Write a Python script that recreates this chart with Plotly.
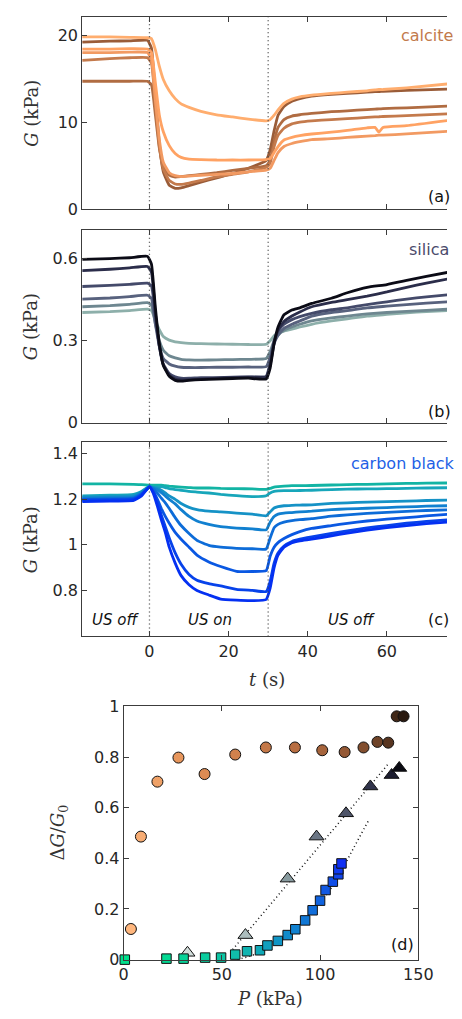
import plotly.graph_objects as go

# ---------------- data: panel (a) calcite ----------------
t_a = [-17, -10, -5, -0.5, 0.5, 1.5, 2.5, 3.5, 5, 6.5, 8, 10, 13, 17, 21, 25, 29.5,
       30.5, 31.5, 32.5, 34, 36, 38, 41, 46, 50, 55, 57, 58, 59, 65, 75.5]
calcite_1 = [19.8, 19.8, 19.75, 19.7, 19.6, 18.3, 16.4, 14.9, 13.6, 12.7, 12.1, 11.7, 11.25, 10.85, 10.6, 10.35, 10.15,
             10.3, 10.8, 11.4, 12.15, 12.65, 12.9, 13.1, 13.3, 13.45, 13.6, 13.7, 13.75, 13.75, 13.95, 14.4]
calcite_2 = [18.4, 18.4, 18.45, 18.4, 18.0, 14.5, 10.8, 8.9, 7.3, 6.4, 5.95, 5.75, 5.7, 5.65, 5.65, 5.65, 5.7,
             5.8, 6.5, 7.2, 7.95, 8.25, 8.45, 8.64, 8.85, 9.05, 9.35, 9.4, 8.85, 9.4, 9.6, 10.2]
calcite_3 = [18.0, 18.0, 18.05, 18.0, 17.2, 12.5, 8.0, 5.4, 4.2, 3.85, 3.75, 3.8, 3.9, 4.0, 4.1, 4.3, 4.5,
             4.7, 5.6, 6.5, 7.2, 7.55, 7.75, 8.0, 8.1, 8.25, 8.4, 8.45, 8.5, 8.5, 8.65, 8.95]
calcite_4 = [17.1, 17.3, 17.4, 17.4, 16.8, 12.0, 7.2, 4.6, 3.3, 2.9, 2.85, 3.0, 3.3, 3.7, 4.0, 4.3, 4.8,
             5.3, 7.2, 8.5, 9.3, 9.8, 10.0, 10.15, 10.3, 10.4, 10.55, 10.6, 10.62, 10.65, 10.75, 10.95]
calcite_5 = [14.7, 14.7, 14.7, 14.7, 14.3, 10.8, 7.0, 5.0, 3.9, 3.7, 3.75, 3.85, 4.0, 4.2, 4.45, 4.7, 5.0,
             5.6, 7.8, 9.4, 10.3, 10.7, 10.85, 11.0, 11.2, 11.3, 11.45, 11.5, 11.52, 11.55, 11.65, 11.85]
calcite_6 = [19.2, 19.3, 19.35, 19.4, 18.5, 13.0, 7.5, 4.3, 2.75, 2.4, 2.45, 2.7, 3.1, 3.6, 4.1, 4.7, 5.6,
             6.8, 9.0, 10.8, 11.8, 12.4, 12.7, 13.0, 13.2, 13.3, 13.45, 13.5, 13.5, 13.55, 13.65, 13.8]

# ---------------- data: panel (b) silica ----------------
t_b = [-17, -10, -5, -0.5, 0.5, 1.5, 2.5, 3.5, 5, 6.5, 8, 10, 13, 17, 21, 25, 29.5,
       30.5, 31.5, 32.5, 34, 36, 38, 41, 46, 50, 55, 60, 65, 70, 75.5]
silica_1 = [0.403, 0.406, 0.41, 0.415, 0.41, 0.375, 0.34, 0.315, 0.302, 0.296, 0.293, 0.29, 0.289, 0.288, 0.287, 0.286, 0.287,
            0.3, 0.318, 0.328, 0.335, 0.342, 0.35, 0.36, 0.372, 0.38, 0.39, 0.396, 0.402, 0.406, 0.41]
silica_2 = [0.424, 0.428, 0.433, 0.439, 0.43, 0.36, 0.3, 0.265, 0.245, 0.237, 0.232, 0.23, 0.229, 0.23, 0.231, 0.232, 0.235,
            0.26, 0.3, 0.32, 0.338, 0.35, 0.36, 0.372, 0.383, 0.39, 0.398, 0.403, 0.407, 0.411, 0.415]
silica_3 = [0.452, 0.456, 0.461, 0.466, 0.455, 0.36, 0.28, 0.235, 0.215, 0.207, 0.203, 0.202, 0.202, 0.203, 0.203, 0.204, 0.205,
            0.24, 0.29, 0.32, 0.345, 0.36, 0.372, 0.39, 0.403, 0.41, 0.42, 0.426, 0.432, 0.437, 0.442]
silica_4 = [0.498, 0.502, 0.506, 0.510, 0.5, 0.39, 0.28, 0.215, 0.18, 0.168, 0.163, 0.163, 0.165, 0.165, 0.167, 0.168, 0.17,
            0.22, 0.3, 0.335, 0.36, 0.377, 0.388, 0.40, 0.413, 0.42, 0.432, 0.442, 0.452, 0.46, 0.468]
silica_5 = [0.556, 0.561, 0.566, 0.571, 0.55, 0.40, 0.28, 0.21, 0.175, 0.16, 0.157, 0.158, 0.16, 0.163, 0.165, 0.167, 0.168,
            0.21, 0.29, 0.34, 0.37, 0.39, 0.405, 0.424, 0.44, 0.45, 0.463, 0.478, 0.495, 0.51, 0.526]
silica_6 = [0.597, 0.600, 0.603, 0.608, 0.58, 0.42, 0.29, 0.21, 0.17, 0.155, 0.152, 0.155, 0.158, 0.16, 0.162, 0.163, 0.16,
            0.2, 0.29, 0.35, 0.395, 0.412, 0.42, 0.436, 0.455, 0.475, 0.495, 0.505, 0.52, 0.535, 0.55]

# ---------------- data: panel (c) carbon black ----------------
t_c = [-17, -10, -4, -2, 0, 1, 2, 3, 4, 5, 6.5, 8, 10, 12, 15, 18, 22, 26, 29.5,
       30.5, 31.5, 32.5, 34, 36, 38, 41, 46, 50, 55, 60, 65, 70, 75.5]
carbon_1 = [1.268, 1.268, 1.266, 1.265, 1.262, 1.262, 1.262, 1.262, 1.26, 1.258, 1.256, 1.254, 1.252, 1.25, 1.25, 1.248, 1.247, 1.246, 1.244,
            1.248, 1.254, 1.256, 1.258, 1.26, 1.26, 1.261, 1.263, 1.265, 1.266, 1.268, 1.27, 1.271, 1.272]
carbon_2 = [1.215, 1.218, 1.222, 1.235, 1.258, 1.252, 1.255, 1.256, 1.252, 1.247, 1.243, 1.24, 1.235, 1.232, 1.228, 1.222, 1.216, 1.212, 1.216,
            1.228, 1.235, 1.237, 1.238, 1.238, 1.239, 1.24, 1.243, 1.245, 1.246, 1.247, 1.248, 1.25, 1.251]
carbon_3 = [1.21, 1.212, 1.215, 1.232, 1.256, 1.252, 1.248, 1.24, 1.228, 1.215, 1.2, 1.182, 1.165, 1.155, 1.148, 1.145, 1.14, 1.135, 1.128,
            1.145, 1.162, 1.168, 1.172, 1.174, 1.175, 1.176, 1.182, 1.185, 1.188, 1.19, 1.192, 1.195, 1.197]
carbon_4 = [1.205, 1.207, 1.21, 1.228, 1.255, 1.25, 1.242, 1.23, 1.215, 1.2, 1.18, 1.155, 1.125, 1.105, 1.09, 1.08, 1.074, 1.07, 1.066,
            1.1, 1.125, 1.135, 1.14, 1.142, 1.145, 1.148, 1.155, 1.158, 1.161, 1.164, 1.167, 1.17, 1.172]
carbon_5 = [1.2, 1.203, 1.206, 1.225, 1.255, 1.245, 1.228, 1.205, 1.185, 1.16, 1.12, 1.085, 1.05, 1.02, 0.998, 0.99, 0.985, 0.983, 0.982,
            1.03, 1.075, 1.09, 1.1, 1.107, 1.111, 1.115, 1.126, 1.132, 1.138, 1.143, 1.147, 1.151, 1.154]
carbon_6 = [1.2, 1.2, 1.203, 1.222, 1.255, 1.235, 1.2, 1.16, 1.125, 1.095, 1.055, 1.025, 0.99, 0.955, 0.925, 0.905, 0.884, 0.883, 0.887,
            0.95, 0.99, 1.01, 1.028, 1.045, 1.058, 1.072, 1.085, 1.095, 1.105, 1.113, 1.12, 1.127, 1.134]
carbon_7 = [1.195, 1.197, 1.2, 1.22, 1.255, 1.23, 1.19, 1.13, 1.08, 1.03, 0.965, 0.915, 0.87, 0.845, 0.83, 0.82, 0.805, 0.8, 0.795,
            0.84, 0.92, 0.965, 0.995, 1.015, 1.025, 1.035, 1.05, 1.062, 1.075, 1.085, 1.095, 1.103, 1.11]
carbon_8 = [1.19, 1.192, 1.195, 1.215, 1.256, 1.225, 1.17, 1.11, 1.055, 0.99, 0.92, 0.865, 0.825, 0.8, 0.78, 0.762, 0.757, 0.755, 0.76,
            0.81, 0.9, 0.955, 0.99, 1.01, 1.018, 1.025, 1.04, 1.052, 1.065, 1.076, 1.085, 1.093, 1.1]

# ---------------- data: panel (d) ----------------
circle_P = [3.7, 8.8, 17.2, 27.9, 41.2, 56.8, 72.4, 87.2, 101.1, 112.5, 122.1, 129.2, 134.7, 139.0, 142.5]
circle_G = [0.121, 0.486, 0.703, 0.798, 0.733, 0.810, 0.838, 0.838, 0.827, 0.820, 0.838, 0.860, 0.857, 0.961, 0.961]
tri_P = [32.5, 62.0, 83.5, 98.2, 113.2, 125.6, 136.4, 140.3]
tri_G = [0.027, 0.097, 0.320, 0.486, 0.578, 0.684, 0.729, 0.757]
sq_P = [0.6, 21.8, 30.5, 41.5, 49.6, 56.8, 62.8, 69.4, 73.2, 78.5, 83.5, 87.4, 92.4, 96.2, 100.0, 102.8, 106.5, 109.3, 109.3, 110.9]
sq_G = [0.0, 0.004, 0.004, 0.008, 0.008, 0.020, 0.033, 0.037, 0.056, 0.074, 0.097, 0.120, 0.155, 0.195, 0.233, 0.275, 0.308, 0.337, 0.357, 0.380]
fitA_P = [55.5, 134.6]
fitA_G = [0.04, 0.772]
fitB_P = [58, 70, 80, 90, 100, 108, 116.6, 124.7]
fitB_G = [0.0, 0.03, 0.075, 0.14, 0.225, 0.31, 0.434, 0.55]

# ---------------- styles ----------------
W, H = 462, 1019
calcite_colors = ['#FFAD6E', '#FFA263', '#F29A62', '#C47A4C', '#B06C42', '#9A5C38']
silica_colors = ['#8DAFAA', '#6E8790', '#58627E', '#444A6A', '#2B2D4A', '#0B0B16']
carbon_colors = ['#12B4A4', '#17A6BA', '#1592C6', '#1180D0', '#0D6CD8', '#0A58E2', '#0742EA', '#0430F2']


def hex2rgb(h):
    h = h.lstrip('#')
    return [int(h[i:i + 2], 16) for i in (0, 2, 4)]


def gradient(stops, n):
    cols = []
    rs = [hex2rgb(s) for s in stops]
    for i in range(n):
        f = i / (n - 1) * (len(rs) - 1)
        k = min(int(f), len(rs) - 2)
        u = f - k
        c = [round(rs[k][j] + (rs[k + 1][j] - rs[k][j]) * u) for j in range(3)]
        cols.append('rgb(%d,%d,%d)' % tuple(c))
    return cols


circle_colors = gradient(['#FFB77E', '#E39056', '#B86E42', '#7A4A2C', '#2A1A10'], len(circle_P))
tri_colors = gradient(['#D3DEDC', '#8FA4A6', '#5C6478', '#2A2C44', '#0A0A12'], len(tri_P))
sq_colors = gradient(['#00E08C', '#10C0A8', '#1090C8', '#1060E0', '#1030F4'], len(sq_P))

AX = '#3c3c3c'
TICKFONT = dict(family='DejaVu Sans', size=16, color='#262626')
LINEW = 2.8

fig = go.Figure()


def add_lines(t, series, colors, xa, ya):
    for s, c in zip(series, colors):
        fig.add_trace(go.Scatter(x=t, y=s, mode='lines', xaxis=xa, yaxis=ya,
                                 line=dict(color=c, width=LINEW, shape='spline', smoothing=0.4),
                                 showlegend=False, hoverinfo='skip'))


add_lines(t_a, [calcite_6, calcite_5, calcite_4, calcite_3, calcite_2, calcite_1],
          list(reversed(calcite_colors)), 'x', 'y')
add_lines(t_b, [silica_1, silica_2, silica_3, silica_4, silica_5, silica_6], silica_colors, 'x2', 'y2')
add_lines(t_c, [carbon_1, carbon_2, carbon_3, carbon_4, carbon_5, carbon_6, carbon_7, carbon_8],
          carbon_colors, 'x3', 'y3')

# panel d
fig.add_trace(go.Scatter(x=fitA_P, y=fitA_G, mode='lines', xaxis='x4', yaxis='y4',
                         line=dict(color='#111', width=1.5, dash='1px,3px'), showlegend=False))
fig.add_trace(go.Scatter(x=fitB_P, y=fitB_G, mode='lines', xaxis='x4', yaxis='y4',
                         line=dict(color='#111', width=1.5, dash='1px,3px', shape='spline'), showlegend=False))
fig.add_trace(go.Scatter(x=circle_P, y=circle_G, mode='markers', xaxis='x4', yaxis='y4', cliponaxis=False,
                         marker=dict(symbol='circle', size=11, color=circle_colors,
                                     line=dict(color='#111', width=1)), showlegend=False))
fig.add_trace(go.Scatter(x=tri_P, y=tri_G, mode='markers', xaxis='x4', yaxis='y4', cliponaxis=False,
                         marker=dict(symbol='triangle-up', size=13, color=tri_colors,
                                     line=dict(color='#111', width=1)), showlegend=False))
fig.add_trace(go.Scatter(x=sq_P, y=sq_G, mode='markers', xaxis='x4', yaxis='y4', cliponaxis=False,
                         marker=dict(symbol='square', size=9.5, color=sq_colors,
                                     line=dict(color='#111', width=1)), showlegend=False))


def px_x(p):
    return p / W


def px_y(p):
    return (H - p) / H


base = dict(showline=True, linecolor=AX, linewidth=1, ticks='inside', ticklen=5, tickcolor=AX,
            showgrid=False, zeroline=False, tickfont=TICKFONT)

trange = [-17, 75.2]
xdom = [80.7 / W, 1.0]
layout = dict(
    width=W, height=H, margin=dict(l=0, r=0, t=0, b=0),
    paper_bgcolor='white', plot_bgcolor='white', showlegend=False,
    xaxis=dict(base, domain=xdom, range=trange, tickvals=[0, 20, 40, 60], showticklabels=False,
               mirror='ticks', anchor='y'),
    yaxis=dict(base, domain=[px_y(204), px_y(8)], range=[0, 22.1], tickvals=[0, 10, 20], anchor='x'),
    xaxis2=dict(base, domain=xdom, range=trange, tickvals=[0, 20, 40, 60], showticklabels=False,
                mirror='ticks', anchor='y2'),
    yaxis2=dict(base, domain=[px_y(421.7), px_y(225)], range=[0, 0.705], tickvals=[0, 0.3, 0.6],
                anchor='x2'),
    xaxis3=dict(base, domain=xdom, range=trange, tickvals=[0, 20, 40, 60], mirror='ticks', anchor='y3'),
    yaxis3=dict(base, domain=[px_y(639.3), px_y(441.7)], range=[0.598, 1.45],
                tickvals=[0.8, 1.0, 1.2, 1.4], ticktext=['0.8', '1', '1.2', '1.4'], anchor='x3'),
    xaxis4=dict(base, domain=[124 / W, 432 / W], range=[0, 150], tickvals=[0, 50, 100, 150],
                mirror='ticks', anchor='y4'),
    yaxis4=dict(base, domain=[px_y(968.7), px_y(710.7)], range=[0, 1],
                tickvals=[0, 0.2, 0.4, 0.6, 0.8, 1], ticktext=['0', '0.2', '0.4', '0.6', '0.8', '1'],
                mirror='ticks', anchor='x4'),
)
fig.update_layout(**layout)

# dotted vertical lines at t=0 and t=30
for xr, yr in [('x', 'y'), ('x2', 'y2'), ('x3', 'y3')]:
    for tv in (0, 30):
        fig.add_shape(type='line', xref=xr, yref=yr + ' domain', x0=tv, x1=tv, y0=0, y1=1,
                      line=dict(color='#444', width=1.3, dash='1px,3px'))

SERIF = 'DejaVu Serif'
ann = []


def label(text, x, y, size=16, color='#111', family='DejaVu Sans', xanchor='left', angle=0):
    ann.append(dict(text=text, x=px_x(x), y=px_y(y), xref='paper', yref='paper', showarrow=False,
                    xanchor=xanchor, yanchor='middle', textangle=angle,
                    font=dict(family=family, size=size, color=color)))


label('calcite', 411.7, 27.5, color='#C27A4C')
label('silica', 420, 245, color='#4B4B6B')
label('carbon black', 360, 463.5, color='#1E5FE6')
label('(a)', 440, 191.5)
label('(b)', 440, 410)
label('(c)', 440, 622.5)
label('(d)', 401.7, 953.3)
label('<i>US off</i>', 115, 622.5, size=15, xanchor='center')
label('<i>US on</i>', 214, 622.5, size=15, xanchor='center')
label('<i>US off</i>', 361.7, 622.5, size=15, xanchor='center')
for yc in (106, 323.4, 540.5):
    label('<i>G</i> (kPa)', 27, yc, size=18, color='#333', family=SERIF, xanchor='center', angle=-90)
label('<i>t</i> (s)', 274, 683, size=18, color='#333', family=SERIF, xanchor='center')
label('Δ<i>G</i>/<i>G</i><sub>0</sub>', 57, 839.7, size=18, color='#333', family=SERIF, xanchor='center', angle=-90)
label('<i>P</i> (kPa)', 277, 1008, size=18, color='#333', family=SERIF, xanchor='center')
fig.update_layout(annotations=ann)

fig.write_html('out.html')
